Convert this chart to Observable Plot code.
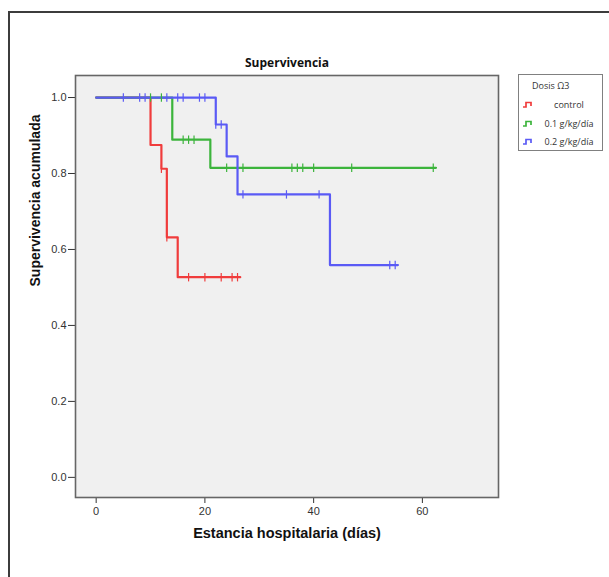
<!DOCTYPE html>
<html>
<head>
<meta charset="utf-8">
<script src="https://cdn.jsdelivr.net/npm/d3@7"></script>
<script src="https://cdn.jsdelivr.net/npm/@observablehq/plot@0.6"></script>
<style>
  html, body { margin: 0; padding: 0; background: #fff; overflow: hidden; }
  #wrap { position: relative; width: 609px; height: 577px; overflow: hidden; }
  #outer { position: absolute; left: 8px; top: 11px; width: 800px; height: 800px; border: 2px solid #3c3c3c; box-sizing: border-box; }
  #chart { position: absolute; left: 0; top: 0; }
  #legend { position: absolute; left: 518px; top: 74px; width: 85px; height: 77px; border: 1.5px solid #808080; box-sizing: border-box; background: #fff;
            font-family: "Open Sans", "Noto Sans", sans-serif; font-size: 9px; color: #333; }
  #legend .ttl { position: absolute; left: 13px; top: 4px; }
  #legend .item { position: absolute; left: 3px; height: 12px; width: 80px; }
  #legend .item svg { position: absolute; left: 0; top: 3px; }
  #legend .item span { position: absolute; left: 14px; right: 0; text-align: center; top: 0; }
</style>
</head>
<body>
<div id="wrap">
  <div id="outer"></div>
  <div id="chart"></div>
  <div id="legend"></div>
</div>
<script>
// ---- data ----
const groups = ["control", "0.1 g/kg/día", "0.2 g/kg/día"];
const colors = ["#f03c3c", "#3cb43c", "#5a5af5"];
const legendTitle = "Dosis Ω3";
const chartTitle = "Supervivencia";
const xLabel = "Estancia hospitalaria (días)";
const yLabel = "Supervivencia acumulada";
const xTicks = [0, 20, 40, 60];
const yTicks = [0, 0.2, 0.4, 0.6, 0.8, 1.0];

// Kaplan–Meier step curves (time, cumulative survival)
const controlTimes = [0, 10, 12, 13, 15, 26.5];
const controlSurv  = [1, 0.875, 0.8125, 0.632, 0.527, 0.527];
const dose1Times   = [0, 14, 21, 62.5];
const dose1Surv    = [1, 0.889, 0.815, 0.815];
const dose2Times   = [0, 22, 24, 26, 43, 55.5];
const dose2Surv    = [1, 0.929, 0.845, 0.745, 0.559, 0.559];

// censored observations (times)
const controlCens = [12, 13, 17, 20, 23, 25, 26];
const dose1Cens   = [10, 12, 16, 17, 18, 24, 27, 36, 37, 38, 40, 47, 62];
const dose2Cens   = [5, 8, 9, 13, 15, 16, 19, 20, 22, 23, 27, 35, 41, 54, 55];

// ---- build tables ----
const curves = [
  {group: groups[0], times: controlTimes, surv: controlSurv, cens: controlCens},
  {group: groups[1], times: dose1Times, surv: dose1Surv, cens: dose1Cens},
  {group: groups[2], times: dose2Times, surv: dose2Surv, cens: dose2Cens}
];
function survAt(c, t) {
  let s = c.surv[0];
  for (let i = 0; i < c.times.length; i++) if (c.times[i] <= t) s = c.surv[i];
  return s;
}
const steps = curves.flatMap(c => c.times.map((t, i) => ({group: c.group, t, s: c.surv[i]})));
const censored = curves.flatMap(c => c.cens.map(t => ({group: c.group, t, s: survAt(c, t)})));

const censorTick = {
  draw(context, size) {
    const h = Math.sqrt(size / Math.PI);
    context.moveTo(0, -h);
    context.lineTo(0, h);
  }
};

const chart = Plot.plot({
  width: 609,
  height: 577,
  marginLeft: 75,
  marginRight: 111,
  marginTop: 75,
  marginBottom: 80,
  style: {fontFamily: "'Liberation Sans', Arial, sans-serif", fontSize: "11px", color: "#333", background: "transparent", overflow: "visible"},
  x: {domain: [-3.8, 74], ticks: xTicks, tickSize: 6, tickPadding: 4, label: null, tickFormat: d3.format("d")},
  y: {domain: [-0.053, 1.058], ticks: yTicks, tickSize: 7, tickPadding: 2, label: null, tickFormat: d3.format(".1f")},
  color: {domain: groups, range: colors},
  marks: [
    Plot.frame({fill: "#f0f0f0", stroke: "#666", strokeWidth: 1.6}),
    Plot.line(steps, {x: "t", y: "s", z: "group", stroke: "group", curve: "step-after", strokeWidth: 2.2}),
    Plot.dot(censored, {x: "t", y: "s", stroke: "group", fill: "none", symbol: censorTick, r: 4.2, strokeWidth: 1.2}),
    Plot.text([chartTitle], {text: d => d, frameAnchor: "top", dy: -17, fontWeight: "bold", fontSize: 12, fill: "#111", fontFamily: "'Open Sans', 'Noto Sans', sans-serif"}),
    Plot.text([xLabel], {text: d => d, frameAnchor: "bottom", dy: 40, fontWeight: "bold", fontSize: 14.5, fill: "#111"}),
    Plot.text([yLabel], {text: d => d, frameAnchor: "left", dx: -40, rotate: -90, fontWeight: "bold", fontSize: 14, fill: "#111"})
  ]
});
document.getElementById("chart").appendChild(chart);

// ---- legend (HTML) ----
const legend = document.getElementById("legend");
const lt = document.createElement("div");
lt.className = "ttl";
lt.textContent = legendTitle;
legend.appendChild(lt);
const itemTops = [23, 42, 60];
groups.forEach((g, i) => {
  const it = document.createElement("div");
  it.className = "item";
  it.style.top = itemTops[i] + "px";
  it.innerHTML = `<svg width="12" height="7"><path d="M1,6H4V1.5H9V5" fill="none" stroke="${colors[i]}" stroke-width="1.7"/></svg>`;
  const sp = document.createElement("span");
  sp.textContent = g;
  it.appendChild(sp);
  legend.appendChild(it);
});
</script>
</body>
</html>
